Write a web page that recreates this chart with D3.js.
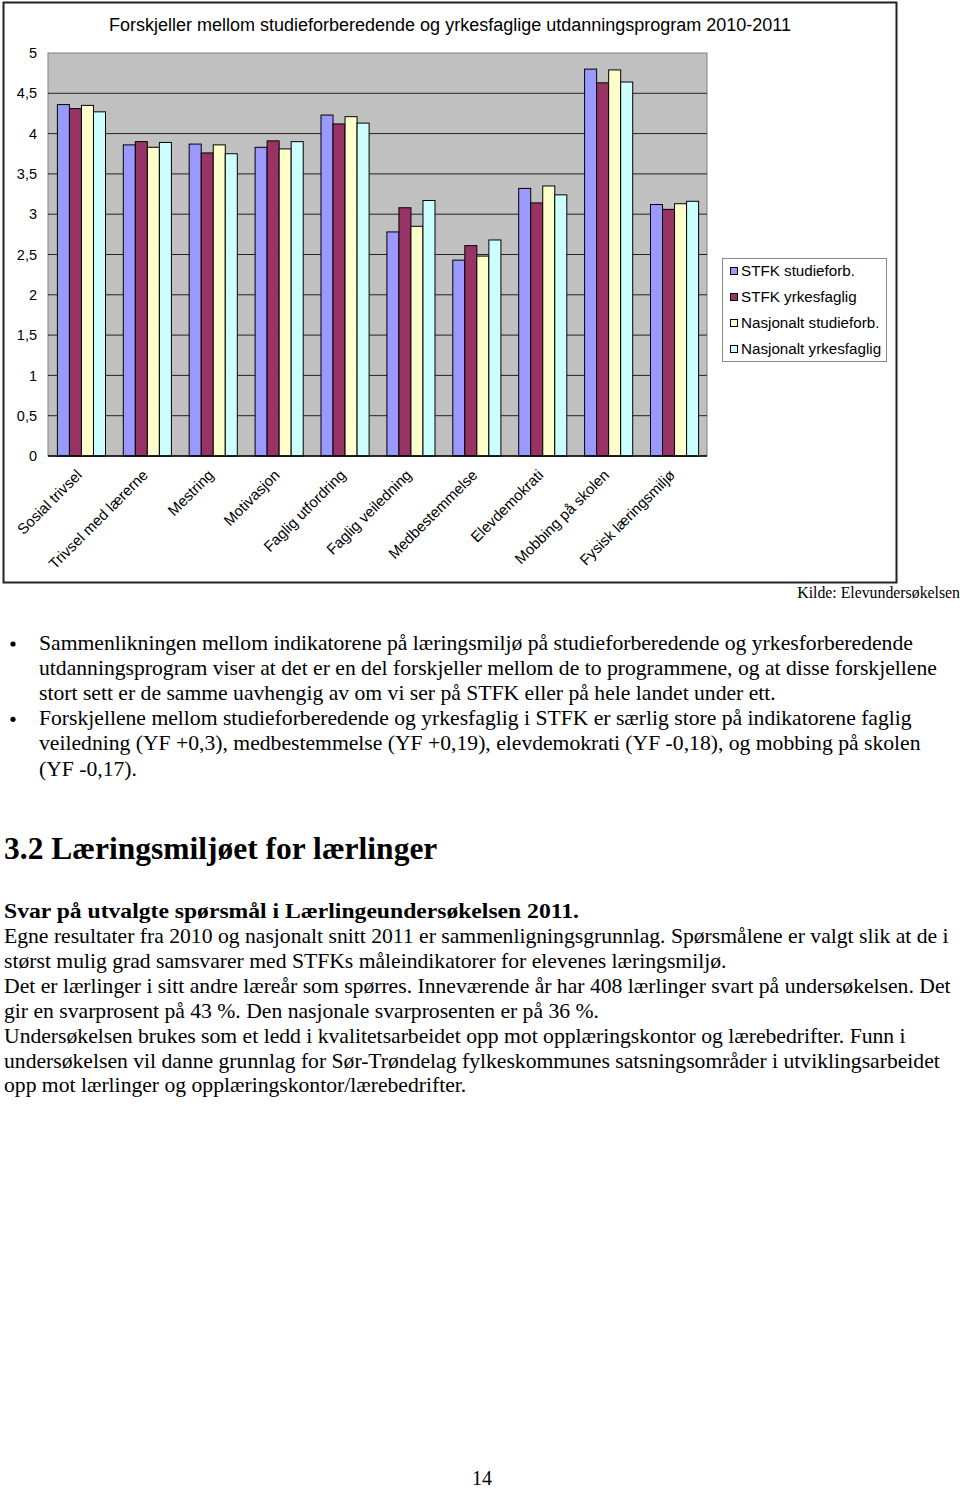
<!DOCTYPE html>
<html><head><meta charset="utf-8">
<script src="https://cdn.jsdelivr.net/npm/d3@7"></script>
<style>
body{margin:0;background:#fff;}
svg{display:block;}
</style></head>
<body>
<svg id="c" width="960" height="1489"></svg>
<script>
const title = "Forskjeller mellom studieforberedende og yrkesfaglige utdanningsprogram 2010-2011";
const categories = ["Sosial trivsel","Trivsel med lærerne","Mestring","Motivasjon","Faglig utfordring","Faglig veiledning","Medbestemmelse","Elevdemokrati","Mobbing på skolen","Fysisk læringsmiljø"];
const seriesNames = ["STFK studieforb.","STFK yrkesfaglig","Nasjonalt studieforb.","Nasjonalt yrkesfaglig"];
const seriesColors = ["#9999ff","#993366","#ffffcc","#ccffff"];
const stfkStudie   = [4.36,3.86,3.87,3.83,4.23,2.78,2.43,3.32,4.80,3.12];
const stfkYrke     = [4.31,3.90,3.76,3.91,4.12,3.08,2.61,3.14,4.63,3.06];
const nasjStudie   = [4.35,3.83,3.86,3.81,4.21,2.85,2.48,3.35,4.79,3.13];
const nasjYrke     = [4.27,3.89,3.75,3.90,4.13,3.17,2.68,3.24,4.64,3.16];
const yTicks = [0,0.5,1,1.5,2,2.5,3,3.5,4,4.5,5];
const source = "Kilde: Elevundersøkelsen";
const bullets = [
  ["Sammenlikningen mellom indikatorene på læringsmiljø på studieforberedende og yrkesforberedende",
   "utdanningsprogram viser at det er en del forskjeller mellom de to programmene, og at disse forskjellene",
   "stort sett er de samme uavhengig av om vi ser på STFK eller på hele landet under ett."],
  ["Forskjellene mellom studieforberedende og yrkesfaglig i STFK er særlig store på indikatorene faglig",
   "veiledning (YF +0,3), medbestemmelse (YF +0,19), elevdemokrati (YF -0,18), og mobbing på skolen",
   "(YF -0,17)."]
];
const heading = "3.2 Læringsmiljøet for lærlinger";
const subheading = "Svar på utvalgte spørsmål i Lærlingeundersøkelsen 2011.";
const bodyLines = [
  "Egne resultater fra 2010 og nasjonalt snitt 2011 er sammenligningsgrunnlag. Spørsmålene er valgt slik at de i",
  "størst mulig grad samsvarer med STFKs måleindikatorer for elevenes læringsmiljø.",
  "Det er lærlinger i sitt andre læreår som spørres. Inneværende år har 408 lærlinger svart på undersøkelsen. Det",
  "gir en svarprosent på 43 %. Den nasjonale svarprosenten er på 36 %.",
  "Undersøkelsen brukes som et ledd i kvalitetsarbeidet opp mot opplæringskontor og lærebedrifter. Funn i",
  "undersøkelsen vil danne grunnlag for Sør-Trøndelag fylkeskommunes satsningsområder i utviklingsarbeidet",
  "opp mot lærlinger og opplæringskontor/lærebedrifter."
];
const pageNumber = "14";

const series = [stfkStudie, stfkYrke, nasjStudie, nasjYrke];
const svg = d3.select("#c");
const sans = "Liberation Sans, Arial, sans-serif";
const serif = "Liberation Serif, Times New Roman, serif";

// frame
svg.append("rect").attr("x",3.5).attr("y",2.5).attr("width",893).attr("height",580)
  .attr("fill","#fff").attr("stroke","#222").attr("stroke-width",2);

svg.append("text").attr("x",450).attr("y",31).attr("text-anchor","middle")
  .attr("font-family",sans).attr("font-size",18).attr("fill","#000").text(title);

const L=48, R=707, T=53, B=456;
const x0 = d3.scaleBand().domain(categories).range([L,R]).paddingInner(0.27).paddingOuter(0.135);
const x1 = d3.scaleBand().domain(d3.range(4)).range([0,x0.bandwidth()]);
const y = d3.scaleLinear().domain([0,5]).range([B,T]);

svg.append("rect").attr("x",L).attr("y",T).attr("width",R-L).attr("height",B-T)
  .attr("fill","#c0c0c0").attr("stroke","#808080").attr("stroke-width",1);

const grid = svg.append("g");
yTicks.filter(d=>d>0 && d<5).forEach(t=>{
  grid.append("line").attr("x1",L).attr("x2",R).attr("y1",y(t)).attr("y2",y(t))
    .attr("stroke","#222").attr("stroke-width",1);
});

const yAxis = svg.append("g").attr("transform",`translate(${L},0)`)
  .call(d3.axisLeft(y).tickValues(yTicks).tickSize(0).tickPadding(11)
    .tickFormat(d=>String(d).replace(".",",")));
yAxis.select(".domain").remove();
yAxis.selectAll("text").attr("font-family",sans).attr("font-size",14.5).attr("fill","#000");

const groups = svg.append("g").selectAll("g").data(categories).join("g")
  .attr("transform",d=>`translate(${x0(d)},0)`);
groups.selectAll("rect").data((d,i)=>series.map((s,j)=>({j,v:s[i]}))).join("rect")
  .attr("x",d=>x1(d.j)+0.5).attr("width",x1.bandwidth())
  .attr("y",d=>y(d.v)).attr("height",d=>B-y(d.v))
  .attr("fill",d=>seriesColors[d.j]).attr("stroke","#000").attr("stroke-width",1);

svg.append("line").attr("x1",L).attr("x2",R).attr("y1",B).attr("y2",B).attr("stroke","#000").attr("stroke-width",1.5);

const xAxis = svg.append("g").attr("transform",`translate(0,${B})`)
  .call(d3.axisBottom(x0).tickSize(0).tickPadding(0));
xAxis.select(".domain").remove();
xAxis.selectAll("text")
  .attr("font-family",sans).attr("font-size",15).attr("fill","#000")
  .attr("text-anchor","end").attr("dy",0)
  .attr("transform","translate(2,20) rotate(-45)");

// legend
const lg = svg.append("g");
lg.append("rect").attr("x",722.5).attr("y",258.5).attr("width",164).attr("height",103)
  .attr("fill","#fff").attr("stroke","#888").attr("stroke-width",1);
seriesNames.forEach((n,i)=>{
  const yy = 271 + i*26;
  lg.append("rect").attr("x",730.5).attr("y",yy-3.5).attr("width",7).attr("height",7)
    .attr("fill",seriesColors[i]).attr("stroke","#000").attr("stroke-width",1);
  lg.append("text").attr("x",741).attr("y",yy+5).attr("font-family",sans).attr("font-size",15.2)
    .attr("fill","#000").text(n);
});

svg.append("text").attr("x",960).attr("y",598).attr("text-anchor","end")
  .attr("font-family",serif).attr("font-size",15.8).attr("fill","#000").text(source);

// helper: stretched serif text line
function line(x, yy, txt, size, sx, bold){
  svg.append("g").attr("transform",`translate(${x},${yy}) scale(${sx},1)`)
    .append("text").attr("x",0).attr("y",0).attr("font-family",serif).attr("font-size",size)
    .attr("font-weight",bold?"bold":"normal").attr("fill","#000").text(txt);
}

// bullets
let by = 650;
bullets.forEach(lines=>{
  svg.append("circle").attr("cx",13).attr("cy",by-6).attr("r",2.6).attr("fill","#000");
  lines.forEach(l=>{
    line(39, by, l, 20, 1.083, false);
    by += 25.1;
  });
});

line(4, 859, heading, 31.5, 1.0, true);
line(4, 918, subheading, 21, 1.125, true);
bodyLines.forEach((l,i)=>{
  line(4, 943+i*24.9, l, 20, 1.083, false);
});
svg.append("text").attr("x",482).attr("y",1485).attr("text-anchor","middle")
  .attr("font-family",serif).attr("font-size",20).attr("fill","#000").text(pageNumber);
</script>
</body></html>
